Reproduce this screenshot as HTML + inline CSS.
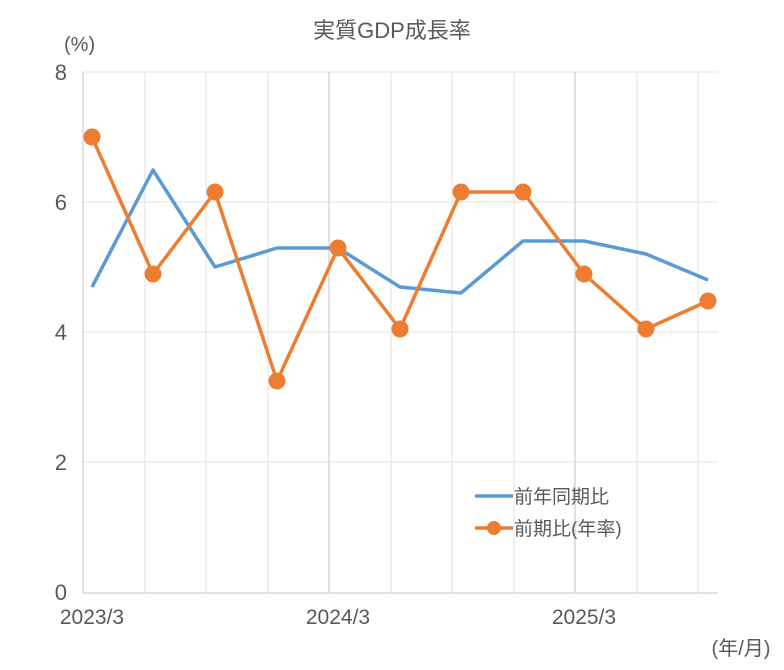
<!DOCTYPE html>
<html><head><meta charset="utf-8"><style>
body{margin:0;background:#fff}
svg text{font-family:"Liberation Sans","Noto Sans CJK JP",sans-serif;fill:#595959}
</style></head><body>
<svg width="784" height="665" xmlns="http://www.w3.org/2000/svg">
<rect width="784" height="665" fill="#fff"/>
<text x="392" y="38" font-size="22" text-anchor="middle">実質GDP成長率</text>
<text x="64" y="51" font-size="20">(%)</text>
<g stroke="#e3e3e3" stroke-width="1">
<line x1="83" y1="72" x2="718" y2="72"/><line x1="83" y1="202" x2="718" y2="202"/>
<line x1="83" y1="332" x2="718" y2="332"/><line x1="83" y1="462" x2="718" y2="462"/>
<line x1="145" y1="72" x2="145" y2="593"/><line x1="206" y1="72" x2="206" y2="593"/>
<line x1="268" y1="72" x2="268" y2="593"/><line x1="391" y1="72" x2="391" y2="593"/>
<line x1="452" y1="72" x2="452" y2="593"/><line x1="514" y1="72" x2="514" y2="593"/>
<line x1="637" y1="72" x2="637" y2="593"/><line x1="698" y1="72" x2="698" y2="593"/>
</g>
<g stroke="#d0d0d0" stroke-width="1.3">
<line x1="83" y1="72" x2="83" y2="593"/><line x1="329" y1="72" x2="329" y2="593"/>
<line x1="575" y1="72" x2="575" y2="593"/><line x1="83" y1="593" x2="718" y2="593"/>
</g>
<g font-size="22" text-anchor="end">
<text x="67" y="80">8</text><text x="67" y="210">6</text><text x="67" y="340">4</text>
<text x="67" y="470">2</text><text x="67" y="600">0</text>
</g>
<g font-size="21" text-anchor="middle">
<text x="92" y="624">2023/3</text><text x="338" y="624">2024/3</text><text x="584" y="624">2025/3</text>
</g>
<text x="741" y="655" font-size="20" text-anchor="middle">(年/月)</text>
<polyline fill="none" stroke="#5b9bd5" stroke-width="3.5" stroke-linejoin="round"
points="92,287 153,170 215,267 277,248 338,248 400,287 461,293 523,241 584,241 646,254 708,280"/>
<polyline fill="none" stroke="#ed7d31" stroke-width="3.5" stroke-linejoin="round"
points="92,137 153,274 215,192 277,381 338,248 400,329 461,192 523,192 584,274 646,329 708,301"/>
<g fill="#ed7d31">
<circle cx="92" cy="137" r="8.5"/><circle cx="153" cy="274" r="8.5"/><circle cx="215" cy="192" r="8.5"/>
<circle cx="277" cy="381" r="8.5"/><circle cx="338" cy="248" r="8.5"/><circle cx="400" cy="329" r="8.5"/>
<circle cx="461" cy="192" r="8.5"/><circle cx="523" cy="192" r="8.5"/><circle cx="584" cy="274" r="8.5"/>
<circle cx="646" cy="329" r="8.5"/><circle cx="708" cy="301" r="8.5"/>
</g>
<line x1="475" y1="496" x2="513" y2="496" stroke="#5b9bd5" stroke-width="3.5"/>
<text x="514" y="503" font-size="19">前年同期比</text>
<line x1="475" y1="528" x2="513" y2="528" stroke="#ed7d31" stroke-width="3.5"/>
<circle cx="494" cy="528" r="7" fill="#ed7d31"/>
<text x="514" y="535" font-size="19">前期比(年率)</text>
</svg>
</body></html>
